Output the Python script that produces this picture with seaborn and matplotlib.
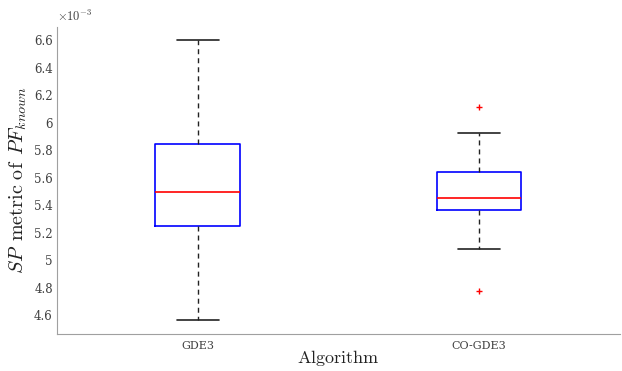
#!/usr/bin/env python3

import pandas
import seaborn as sns
import matplotlib

matplotlib.use("Agg")
import matplotlib.pyplot as plt
from matplotlib.ticker import FuncFormatter

# SP values in units of 1e-3 (whisker ends, quartiles, median, outliers)
algorithms = ["GDE3", "CO-GDE3"]
sp_gde3 = [4.564, 5.247, 5.495, 5.844, 6.600]
sp_co_gde3 = [4.775, 5.080, 5.364, 5.364, 5.455, 5.640, 5.640, 5.924, 6.113]
yticks = [4.6, 4.8, 5.0, 5.2, 5.4, 5.6, 5.8, 6.0, 6.2, 6.4, 6.6]


def build_frame():
    """
    Long form frame for seaborn.
    """
    rows = []
    for name, values in zip(algorithms, [sp_gde3, sp_co_gde3]):
        for v in values:
            rows.append([name, v])
    return pandas.DataFrame(rows, columns=["algorithm", "sp"])


def main():
    df = build_frame()

    sns.set_style("white")
    plt.rcParams["font.family"] = ["DejaVu Serif"]
    plt.rcParams["mathtext.fontset"] = "cm"

    fig = plt.figure(figsize=(6.22, 3.71), dpi=100)
    ax = fig.add_axes([0.0916, 0.0997, 0.905, 0.827])

    sns.boxplot(
        data=df,
        x="algorithm",
        y="sp",
        order=algorithms,
        width=0.3,
        fill=False,
        whis=1.5,
        ax=ax,
        boxprops=dict(color="#0000ff", linewidth=1.2),
        medianprops=dict(color="#ff0000", linewidth=1.2),
        whiskerprops=dict(color="#222222", linewidth=1.0, linestyle=(0, (3.6, 2.9))),
        capprops=dict(color="#222222", linewidth=1.2),
        flierprops=dict(marker="+", markeredgecolor="#ff0000", markersize=4,
                        markeredgewidth=1.0, linestyle="none"),
    )

    ax.set_xlim(-0.5, 1.5)
    ax.set_ylim(4.462, 6.695)
    ax.set_yticks(yticks)
    ax.yaxis.set_major_formatter(FuncFormatter(lambda v, p: f"{v:g}"))

    sns.despine(ax=ax)
    for side in ["left", "bottom"]:
        ax.spines[side].set_color("#a0a0a0")
        ax.spines[side].set_linewidth(0.8)
    ax.tick_params(axis="both", direction="in", length=4, width=0.6,
                   color="#a0a0a0", labelcolor="#404040", labelsize=8.5, pad=3)
    ax.tick_params(axis="x", labelsize=8, pad=5)

    ax.set_xlabel(r"$\mathrm{Algorithm}$", fontsize=13, color="#222222", labelpad=-2)
    ax.set_ylabel(r"$SP\;\,\mathrm{metric\ of}\;\,PF_{known}$", fontsize=14.5,
                  color="#222222", labelpad=4)
    ax.text(0.0, 1.012, r"$\times10^{-3}$", transform=ax.transAxes,
            fontsize=9, color="#404040", ha="left", va="bottom")

    fig.savefig("out.png", dpi=100)


if __name__ == "__main__":
    main()
